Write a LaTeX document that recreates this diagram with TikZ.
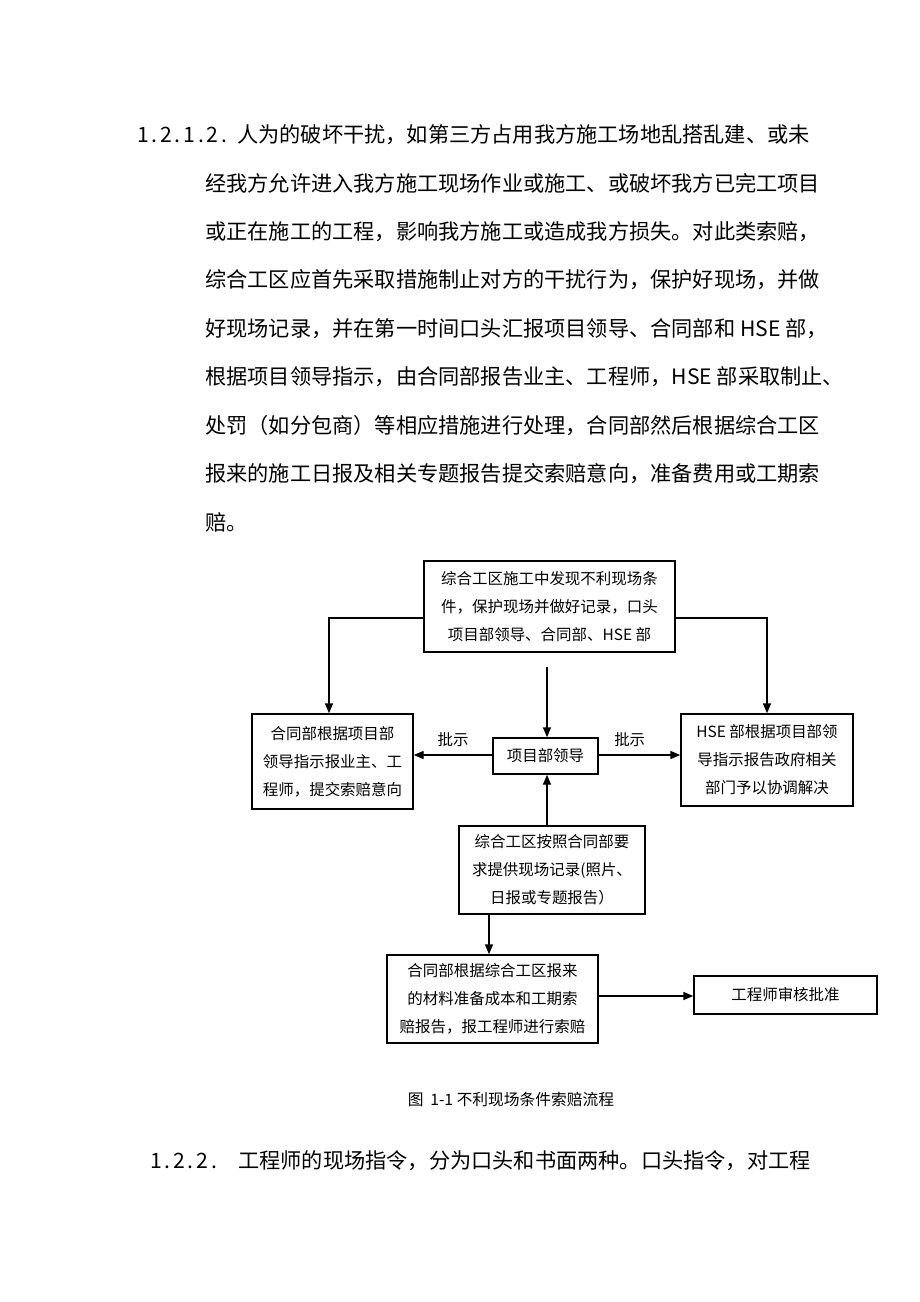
\documentclass[tikz,border=0pt]{standalone}
\usepackage{fontspec}
\setmainfont{Noto Sans CJK SC}
\newfontfamily\numfont[LetterSpace=13]{Noto Sans CJK SC}
\usetikzlibrary{arrows.meta}
\begin{document}
\begin{tikzpicture}[x=0.75pt,y=-0.75pt,
  box/.style={draw, line width=1.1pt, inner sep=0pt, align=center,
    font=\fontsize{11.6}{21}\selectfont},
  body/.style={anchor=west, inner sep=0pt, font=\fontsize{15.9}{16}\selectfont},
  num/.style={anchor=west, inner sep=0pt, font=\numfont\fontsize{15.9}{16}\selectfont},
  lbl/.style={inner sep=0pt, font=\fontsize{11.6}{12}\selectfont},
  arr/.style={line width=1.1pt, -{Triangle[length=7.5pt,width=6pt]}}]
\fill[white] (0,0) rectangle (920,1302);
\useasboundingbox (0,0) rectangle (920,1302);
% body text
\node[num] (n1) at (137,135) {1.2.1.2.};
\node[body] (t1) at (237,135) {人为的破坏干扰，如第三方占用我方施工场地乱搭乱建、或未};
\node[body] (t2) at (205,183.5) {经我方允许进入我方施工现场作业或施工、或破坏我方已完工项目};
\node[body] (t3) at (205,232) {或正在施工的工程，影响我方施工或造成我方损失。对此类索赔，};
\node[body] (t4) at (205,280) {综合工区应首先采取措施制止对方的干扰行为，保护好现场，并做};
\node[body] (t5) at (205,329) {好现场记录，并在第一时间口头汇报项目领导、合同部和 HSE 部，};
\node[body] (t6) at (205,377) {根据项目领导指示，由合同部报告业主、工程师，HSE 部采取制止、};
\node[body] (t7) at (205,425.5) {处罚（如分包商）等相应措施进行处理，合同部然后根据综合工区};
\node[body] (t8) at (205,474) {报来的施工日报及相关专题报告提交索赔意向，准备费用或工期索};
\node[body] (t9) at (205,522) {赔。};
% diagram boxes
\node[box, minimum width={251*0.75pt}, minimum height={91*0.75pt}] (top) at (549.5,606.5)
  {综合工区施工中发现不利现场条\\件，保护现场并做好记录，口头\\项目部领导、合同部、HSE 部};
\node[box, minimum width={161*0.75pt}, minimum height={95*0.75pt}] (left) at (332.5,761.5)
  {合同部根据项目部\\领导指示报业主、工\\程师，提交索赔意向};
\node[box, minimum width={105*0.75pt}, minimum height={36*0.75pt}] (lead) at (545.5,756)
  {项目部领导};
\node[box, minimum width={172*0.75pt}, minimum height={92*0.75pt}] (right) at (767,760)
  {HSE 部根据项目部领\\导指示报告政府相关\\部门予以协调解决};
\node[box, minimum width={186*0.75pt}, minimum height={88*0.75pt}] (mid) at (552,870)
  {综合工区按照合同部要\\求提供现场记录(照片、\\日报或专题报告）};
\node[box, minimum width={211*0.75pt}, minimum height={88*0.75pt}] (bot) at (492.5,999)
  {合同部根据综合工区报来\\的材料准备成本和工期索\\赔报告，报工程师进行索赔};
\node[box, minimum width={183*0.75pt}, minimum height={38*0.75pt}] (eng) at (785.5,995)
  {工程师审核批准};
% connectors
\coordinate (cstart) at (547,667);
\draw[arr] (top.west |- 0,618) -| (left.north -| 329,0);
\draw[arr] (top.east |- 0,618) -| (right.north -| 767,0);
\draw[arr] (cstart) -- (cstart |- lead.north);
\draw[arr] (lead.west |- 0,755) -- (left.east |- 0,755) node[lbl, pos=0.5, above=6pt] {批示};
\draw[arr] (lead.east |- 0,755) -- (right.west |- 0,755) node[lbl, pos=0.38, above=6pt] {批示};
\draw[arr] (mid.north -| cstart) -- (cstart |- lead.south);
\draw[arr] (mid.south -| 489,0) -- (bot.north -| 489,0);
\draw[arr] (bot.east |- 0,996) -- (eng.west |- 0,996);
% caption
\node[inner sep=0pt, font=\fontsize{11.8}{12}\selectfont] (cap) at (511,1100) {图\hspace{5pt}1-1 不利现场条件索赔流程};
% following heading
\node[num] (n2) at (150,1161) {1.2.2.};
\node[body] (u1) at (238,1161) {工程师的现场指令，分为口头和书面两种。口头指令，对工程};
\end{tikzpicture}
\end{document}
